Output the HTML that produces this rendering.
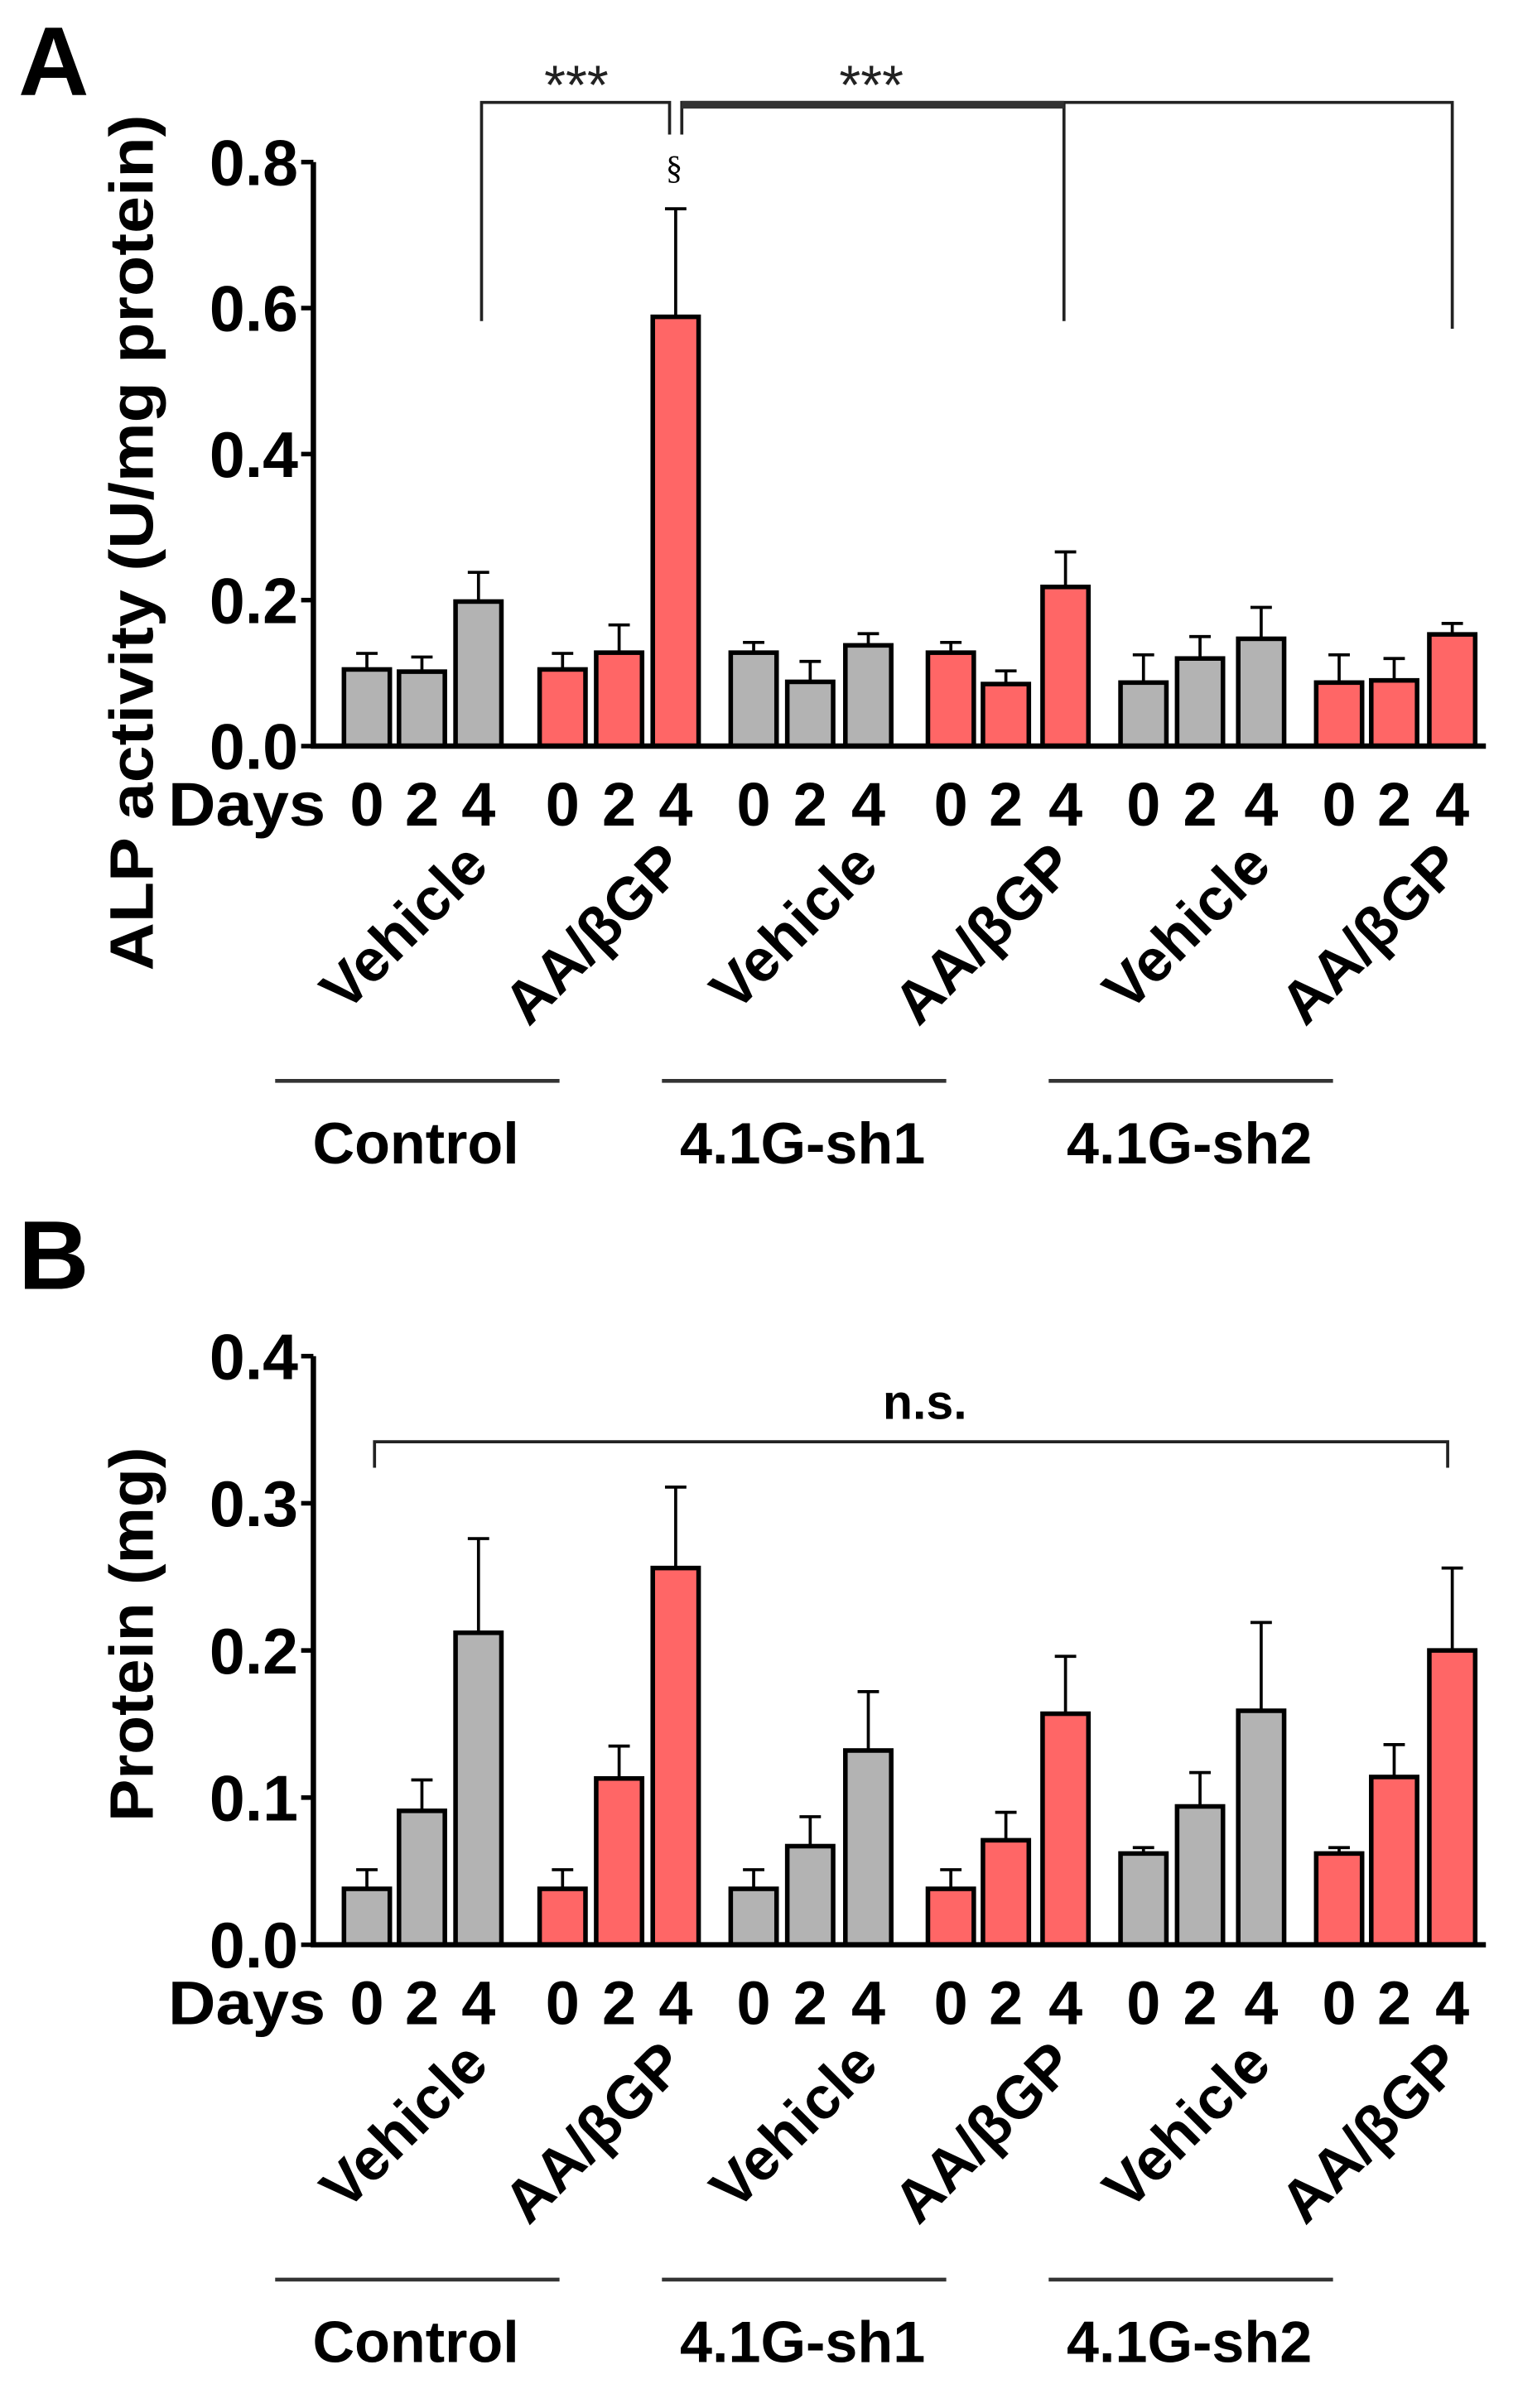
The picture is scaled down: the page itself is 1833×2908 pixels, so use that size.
<!DOCTYPE html>
<html><head><meta charset="utf-8"><style>html,body{margin:0;padding:0;background:#fff}svg{display:block}</style></head>
<body>
<svg id="fig" width="1833" height="2908" viewBox="0 0 993 1575" preserveAspectRatio="none" xmlns="http://www.w3.org/2000/svg" font-family="Liberation Sans, sans-serif" font-weight="bold"></svg>
<script>
const days = ["0","2","4"];
const groupNames = ["Control","4.1G-sh1","4.1G-sh2"];
const treatNames = ["Vehicle","AA/\u03B2GP","Vehicle","AA/\u03B2GP","Vehicle","AA/\u03B2GP"];
const aTicks = [0,0.2,0.4,0.6,0.8];
const aTickLabels = ["0.0","0.2","0.4","0.6","0.8"];
const aMeans = [0.105,0.102,0.198, 0.105,0.128,0.588, 0.128,0.088,0.138, 0.128,0.085,0.218, 0.087,0.120,0.147, 0.087,0.090,0.153];
const aErrs  = [0.022,0.020,0.040, 0.022,0.038,0.148, 0.014,0.028,0.016, 0.014,0.018,0.048, 0.038,0.030,0.043, 0.038,0.030,0.015];
const bTicks = [0,0.1,0.2,0.3,0.4];
const bTickLabels = ["0.0","0.1","0.2","0.3","0.4"];
const bMeans = [0.038,0.091,0.212, 0.038,0.113,0.256, 0.038,0.067,0.132, 0.038,0.071,0.157, 0.062,0.094,0.159, 0.062,0.114,0.200];
const bErrs  = [0.013,0.021,0.064, 0.013,0.022,0.055, 0.013,0.020,0.040, 0.013,0.019,0.039, 0.004,0.023,0.060, 0.004,0.022,0.056];

const NS="http://www.w3.org/2000/svg";
const svg=document.getElementById('fig');
function mk(tag,attrs,parent,text){const e=document.createElementNS(NS,tag);for(const k in attrs)e.setAttribute(k,attrs[k]);if(text!==undefined)e.textContent=text;(parent||svg).appendChild(e);return e;}
const barCenters=[240,276,313,368,405,442,493,530,568,622,658,697,748,785,825,876,912,950];
function panel(name,y0,y1,vmax,ticks,tickLabels,means,errs,ylabel,letter,ylen,ycenter){
  const g=mk('g',{});
  
  
  const ys=v=>y0-(v/vmax)*(y0-y1);
  const L=mk('text',{x:12,y:y1-44,'font-size':64},g,letter);
  
  
  means.forEach((m,i)=>{
    const cx=barCenters[i];const red=Math.floor(i/3)%2===1;
    const top=ys(m+errs[i]);
    const eb=mk('path',{d:`M${cx} ${ys(m)}V${top}M${cx-7} ${top}H${cx+7}`,stroke:'#000','stroke-width':2,fill:'none'},g);
    
    
    const r=mk('rect',{x:cx-15,y:ys(m),width:30,height:y0-ys(m),fill:red?'#ff6666':'#b3b3b3',stroke:'#000','stroke-width':3},g);
    
    
  });
  const ax=mk('path',{d:`M205 ${y1}V${y0}H972`,stroke:'#000','stroke-width':3.5,fill:'none'},g);
  
  
  ticks.forEach((t,i)=>{
    mk('path',{d:`M197 ${ys(t)}H205`,stroke:'#000','stroke-width':3},g);
    const tl=mk('text',{x:195,y:ys(t)+15,'font-size':42,'text-anchor':'end',textLength:58,lengthAdjust:'spacingAndGlyphs'},g,tickLabels[i]);
    
    
  });
  const yl=mk('text',{transform:`translate(100 ${ycenter}) rotate(-90)`,'font-size':40,'text-anchor':'middle',textLength:ylen,lengthAdjust:'spacingAndGlyphs'},g,ylabel);
  
  
  const dl=mk('text',{x:110,y:y0+52,'font-size':40,textLength:103,lengthAdjust:'spacingAndGlyphs'},g,'Days');
  
  
  barCenters.forEach((cx,i)=>{
    const t=mk('text',{x:cx,y:y0+52,'font-size':40,'text-anchor':'middle'},g,days[i%3]);
    
    
  });
  treatNames.forEach((n,k)=>{
    const ex=barCenters[k*3+2]+8, ey=y0+80;
    const t=mk('text',{transform:`translate(${ex} ${ey}) rotate(-45)`,'font-size':39,'text-anchor':'end'},g,n);
    
    
  });
  groupNames.forEach((n,k)=>{
    const x0=180+k*253;
    const ln=mk('path',{d:`M${x0} ${y0+219}H${x0+186}`,stroke:'#333','stroke-width':2.5},g);
    
    
    const t=mk('text',{x:x0+92,y:y0+273,'font-size':38,'text-anchor':'middle'},g,n);
    
    
  });
  return {g,ys};
}
const A=panel('panel-a',488,106,0.8,aTicks,aTickLabels,aMeans,aErrs,'ALP activity (U/mg protein)','A',560,355);
const br=mk('path',{d:'M315 210V67H438V88M446 88V67H950V215M696 67V210',stroke:'#222','stroke-width':2,fill:'none'},A.g);


const thick=mk('path',{d:'M446 68.5H696',stroke:'#333','stroke-width':5},A.g);


[[377],[570]].forEach(p=>{const s=mk('text',{x:p[0],y:68,'font-size':36,'font-weight':'normal','text-anchor':'middle',fill:'#222'},A.g,'***');});
const sec=mk('text',{x:441,y:117,'font-size':22,'font-weight':'normal','text-anchor':'middle','font-family':'Liberation Serif, serif'},A.g,'\u00A7');


const B=panel('panel-b',1272,887,0.4,bTicks,bTickLabels,bMeans,bErrs,'Protein (mg)','B',245,1069);
const nb=mk('path',{d:'M245 960V943H947V960',stroke:'#222','stroke-width':2,fill:'none'},B.g);


const ns=mk('text',{x:605,y:928,'font-size':32,'text-anchor':'middle'},B.g,'n.s.');


</script>
</body></html>
